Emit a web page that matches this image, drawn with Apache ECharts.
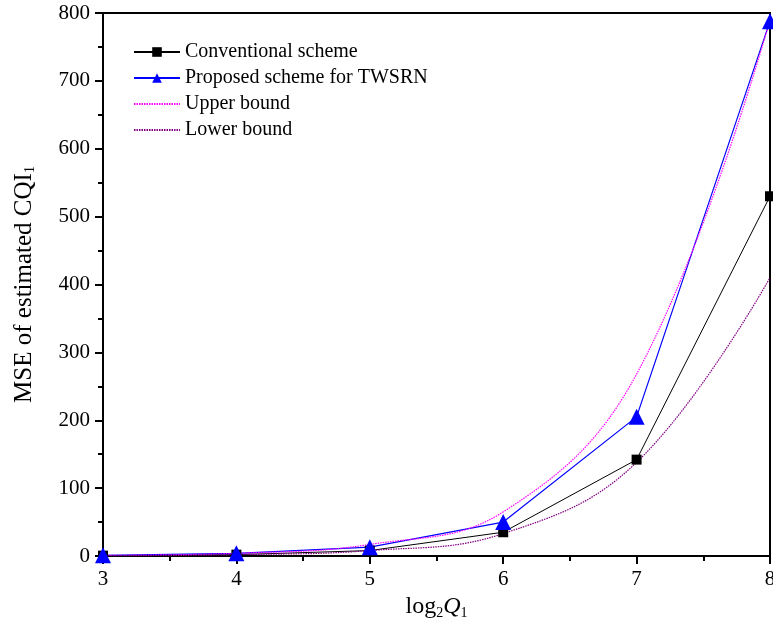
<!DOCTYPE html>
<html>
<head>
<meta charset="utf-8">
<script src="https://cdn.jsdelivr.net/npm/echarts@6/dist/echarts.min.js"></script>
<style>html,body{margin:0;padding:0;background:#fff;}#c{width:773px;height:627px;}</style>
</head>
<body>
<div id="c"></div>
<script>
const xs = [3, 4, 5, 6, 7, 8];
const conventional = [0.5, 2, 8, 35, 142, 530];
const proposed = [1, 4, 13, 50, 205, 788];
const upperBound = [1, 4, 17, 65, 268, 790];
const lowerBound = [0.5, 2, 8, 33, 138, 410];
const seriesNames = ['Conventional scheme', 'Proposed scheme for TWSRN', 'Upper bound', 'Lower bound'];

const pairs = arr => xs.map((x, i) => [x, arr[i]]);
const font = 'Liberation Serif';

const chart = echarts.init(document.getElementById('c'));
chart.setOption({
  animation: false,
  backgroundColor: '#fff',
  grid: { left: 103, right: 3, top: 13, bottom: 71, show: true, borderColor: '#000', borderWidth: 2,
          backgroundColor: 'transparent', outerBoundsMode: 'none', containLabel: false },
  legend: {
    orient: 'vertical', left: 128, top: 37, itemGap: 6, itemWidth: 46, itemHeight: 12,
    textStyle: { fontFamily: font, fontSize: 20, color: '#000' },
    data: [
      { name: seriesNames[0] },
      { name: seriesNames[1] },
      { name: seriesNames[2], itemStyle: { opacity: 0 } },
      { name: seriesNames[3], itemStyle: { opacity: 0 } }
    ]
  },
  xAxis: {
    type: 'value', min: 3, max: 8, interval: 1,
    axisLine: { lineStyle: { color: '#000', width: 2 } },
    axisTick: { length: 8, lineStyle: { color: '#000', width: 2 } },
    minorTick: { show: true, splitNumber: 2, length: 5, lineStyle: { color: '#000', width: 2 } },
    splitLine: { show: false },
    axisLabel: { fontFamily: font, fontSize: 21, color: '#000', margin: 13 },
    name: '{a|log}{s|2}{i|Q}{s|1}',
    nameLocation: 'middle', nameGap: 38,
    nameTextStyle: {
      rich: {
        a: { fontFamily: font, fontSize: 24, color: '#000' },
        i: { fontFamily: font, fontSize: 24, color: '#000', fontStyle: 'italic' },
        s: { fontFamily: font, fontSize: 14, color: '#000', padding: [12, 0, 0, 0] }
      }
    }
  },
  yAxis: {
    type: 'value', min: 0, max: 800, interval: 100,
    axisLine: { show: true, lineStyle: { color: '#000', width: 2 } },
    axisTick: { show: true, length: 8, lineStyle: { color: '#000', width: 2 } },
    minorTick: { show: true, splitNumber: 2, length: 5, lineStyle: { color: '#000', width: 2 } },
    splitLine: { show: false },
    axisLabel: { fontFamily: font, fontSize: 21, color: '#000', margin: 13 },
    name: '{a|MSE of estimated CQI}{s|1}',
    nameLocation: 'middle', nameGap: 66, nameRotate: 90,
    nameTextStyle: {
      rich: {
        a: { fontFamily: font, fontSize: 25, color: '#000' },
        s: { fontFamily: font, fontSize: 14, color: '#000', padding: [12, 0, 0, 0] }
      }
    }
  },
  series: [
    { name: seriesNames[0], type: 'line', data: pairs(conventional), clip: false,
      symbol: 'rect', symbolSize: 10, itemStyle: { color: '#000' },
      lineStyle: { color: '#000', width: 1 } },
    { name: seriesNames[1], type: 'line', data: pairs(proposed), clip: false,
      symbol: 'triangle', symbolSize: 16, itemStyle: { color: '#0000ff' },
      lineStyle: { color: '#0000ff', width: 1.2 } },
    { name: seriesNames[2], type: 'line', data: pairs(upperBound), smooth: 0.4, showSymbol: false, symbol: 'none',
      itemStyle: { color: '#ff00ff' },
      lineStyle: { color: '#ff00ff', width: 1.2, type: [1.5, 1] } },
    { name: seriesNames[3], type: 'line', data: pairs(lowerBound), smooth: 0.4, showSymbol: false, symbol: 'none',
      itemStyle: { color: '#800080' },
      lineStyle: { color: '#800080', width: 1.2, type: [1.5, 1] } }
  ]
});
</script>
</body>
</html>
